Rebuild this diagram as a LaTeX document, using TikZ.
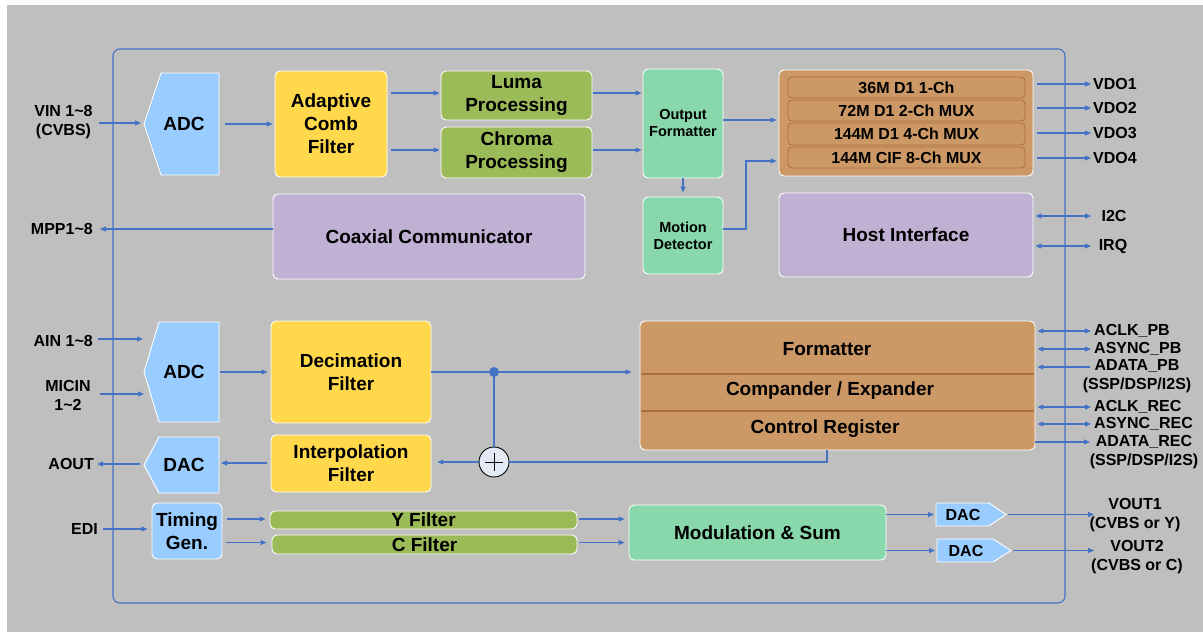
\documentclass[tikz,border=0pt]{standalone}
\usepackage{fontspec}
\setmainfont{Liberation Sans}
\usetikzlibrary{arrows.meta,calc}
\definecolor{bg}{HTML}{BFBFBF}
\definecolor{ln}{HTML}{4472C4}
\definecolor{lblue}{HTML}{99CCFF}
\definecolor{yel}{HTML}{FFD84B}
\definecolor{olive}{HTML}{9BBB59}
\definecolor{mint}{HTML}{88D8AC}
\definecolor{tan}{HTML}{CC9966}
\definecolor{tandark}{HTML}{A8703E}
\definecolor{lilac}{HTML}{C0B0D3}
\definecolor{sumfill}{HTML}{E3EAF5}
\newcommand{\mkbox}[8][]{\node[blk, fill=#7, minimum width={#5-#3}, minimum height={#6-#4}, #1] (#2) at ({(#3+#5)/2},{(#4+#6)/2}) {#8};}
\begin{document}
\begin{tikzpicture}[x=1pt,y=-1pt,
  blkf/.style={font=\bfseries\fontsize{19}{23}\selectfont, inner sep=0pt, align=center},
  blk/.style={blkf, draw=white, line width=0.9pt, rounded corners=5pt},
  smf/.style={font=\bfseries\fontsize{14.5}{17}\selectfont},
  barf/.style={draw=tandark, line width=0.8pt, rounded corners=4pt, font=\bfseries\fontsize{16}{19}\selectfont},
  dacf/.style={font=\bfseries\fontsize{16}{19}\selectfont, inner sep=0pt},
  sigf/.style={font=\bfseries\fontsize{16}{19}\selectfont, inner sep=0pt, align=center},
  conn/.style={draw=ln, line width=1.1pt},
  arr/.style={conn, -{Triangle[length=6pt,width=5pt]}},
  darr/.style={conn, {Triangle[length=6pt,width=5pt]}-{Triangle[length=6pt,width=5pt]}},
  pent/.style={fill=lblue, draw=white, line width=0.9pt},
  hid/.style={inner sep=0pt, outer sep=0pt},
]
\useasboundingbox (0,0) rectangle (1203,632);
\fill[white] (0,0) rectangle (1203,632);
\fill[bg] (7,5) rectangle (1203,632);
\draw[ln, line width=1.1pt, rounded corners=7pt] (113,49) rectangle (1065,603);

% ---------- top section
\filldraw[pent] (161,73) -- (219,73) -- (219,175) -- (161,175) -- (144,124) -- cycle;
\node[hid, minimum width=75, minimum height=102] (adcA) at (181.5,124) {};
\node[blkf] (adcAt) at (184,124) {ADC};
\mkbox{acf}{275}{71}{387}{177}{yel}{Adaptive\\Comb\\Filter}
\mkbox{luma}{441}{71}{592}{120}{olive}{Luma\\Processing}
\mkbox{chroma}{441}{127}{592}{178}{olive}{Chroma\\Processing}
\mkbox[smf]{of}{643}{69}{723}{178}{mint}{Output\\Formatter}
\mkbox[smf]{md}{643}{197}{723}{274}{mint}{Motion\\Detector}
\mkbox{mux}{779}{70}{1033}{176}{tan}{}
\mkbox[barf]{bar1}{788}{77}{1025}{98}{tan}{36M D1 1-Ch}
\mkbox[barf]{bar2}{788}{100}{1025}{121}{tan}{72M D1 2-Ch MUX}
\mkbox[barf]{bar3}{788}{123}{1025}{145}{tan}{144M D1 4-Ch MUX}
\mkbox[barf]{bar4}{788}{147}{1025}{168}{tan}{144M CIF 8-Ch MUX}
\mkbox{coax}{273}{194}{585}{279}{lilac}{Coaxial Communicator}
\mkbox{host}{779}{193}{1033}{277}{lilac}{Host Interface}

% ---------- middle section
\filldraw[pent] (159,322) -- (219,322) -- (219,422) -- (159,422) -- (144,372) -- cycle;
\node[hid, minimum width=75, minimum height=100] (adcB) at (181.5,372) {};
\node[blkf] (adcBt) at (184,372) {ADC};
\mkbox{dec}{271}{321}{431}{423}{yel}{Decimation\\Filter}
\mkbox{interp}{271}{435}{431}{492}{yel}{Interpolation\\Filter}
\filldraw[pent] (159,437) -- (219,437) -- (219,493) -- (159,493) -- (144,465) -- cycle;
\node[hid, minimum width=75, minimum height=56] (dacA) at (181.5,465) {};
\node[blkf] (dacAt) at (184,465) {DAC};
\mkbox{fmt}{640}{321}{1035}{450}{tan}{}
\draw[tandark, line width=1.2pt] (641,374) -- (1034,374);
\draw[tandark, line width=1.2pt] (641,411) -- (1034,411);
\node[blkf] (fmtA) at (827,349) {Formatter};
\node[blkf] (fmtB) at (830,391) {Compander / Expander};
\node[blkf] (fmtC) at (825,429) {Control Register};
\node[circle, fill=ln, minimum size=10pt, inner sep=0pt] (dot) at (494,372) {};
\node[circle, draw=black, fill=sumfill, line width=0.9pt, minimum size=30pt, inner sep=0pt] (sum) at (494,462) {};
\draw[black, line width=0.8pt] ($(sum.center)+(-9,0)$) -- ($(sum.center)+(9,0)$)
  ($(sum.center)+(0,-9)$) -- ($(sum.center)+(0,9)$);

% ---------- bottom section
\mkbox{timing}{152}{503}{222}{559}{lblue}{Timing\\Gen.}
\mkbox{yfil}{270}{511}{577}{529}{olive}{Y Filter}
\mkbox{cfil}{272}{535}{577}{554}{olive}{C Filter}
\mkbox{mod}{629}{505}{886}{560}{mint}{Modulation \& Sum}
\filldraw[pent] (936,503) -- (989,503) -- (1006,514.5) -- (989,526) -- (936,526) -- cycle;
\node[hid, minimum width=70, minimum height=23] (dac1) at (971,514.5) {};
\node[dacf] (dac1t) at (963,514.5) {DAC};
\filldraw[pent] (937,539) -- (993,539) -- (1011,550.5) -- (993,562) -- (937,562) -- cycle;
\node[hid, minimum width=74, minimum height=23] (dac2) at (974,550.5) {};
\node[dacf] (dac2t) at (966,550.5) {DAC};

% ---------- labels
\node[sigf] (vin) at (63.5,122.5) {VIN 1\textasciitilde8\\(CVBS)};
\node[sigf, anchor=east] (mpp) at (93,229) {MPP1\textasciitilde8};
\node[sigf, anchor=east] (ain) at (93,341) {AIN 1\textasciitilde8};
\node[sigf] (micin) at (68,395) {MICIN\\1\textasciitilde2};
\node[sigf, anchor=east] (aout) at (94,464) {AOUT};
\node[sigf, anchor=east] (edi) at (98,529) {EDI};
\node[sigf, anchor=west] (vdo1) at (1093,84) {VDO1};
\node[sigf, anchor=west] (vdo2) at (1093,108) {VDO2};
\node[sigf, anchor=west] (vdo3) at (1093,133) {VDO3};
\node[sigf, anchor=west] (vdo4) at (1093,158) {VDO4};
\node[sigf] (i2c) at (1114,216) {I2C};
\node[sigf] (irq) at (1113,246) {IRQ};
\node[sigf, anchor=west] (aclkpb) at (1094,331) {ACLK\_PB};
\node[sigf, anchor=west] (asyncpb) at (1094,349) {ASYNC\_PB};
\node[sigf] (adatapb) at (1137,376.5) {ADATA\_PB\\(SSP/DSP/I2S)};
\node[sigf, anchor=west] (aclkrec) at (1094,407) {ACLK\_REC};
\node[sigf, anchor=west] (asyncrec) at (1094,424) {ASYNC\_REC};
\node[sigf] (adatarec) at (1144,452) {ADATA\_REC\\(SSP/DSP/I2S)};
\node[sigf] (vout1) at (1135,515) {VOUT1\\(CVBS or Y)};
\node[sigf] (vout2) at (1137,557) {VOUT2\\(CVBS or C)};

% ---------- connectors top
\coordinate (vinP) at (99,123);
\draw[arr, shorten >=3pt] (vinP) -- (vinP -| adcA.west);
\draw[arr, shorten <=6pt, shorten >=2pt] (adcA.east) -- (adcA.east -| acf.west);
\draw[arr, shorten <=4pt, shorten >=1pt] ($(acf.east |- luma.west)+(0,-2.5)$) -- ($(luma.west)+(0,-2.5)$);
\draw[arr, shorten <=4pt, shorten >=1pt] ($(acf.east |- chroma.west)+(0,-2.5)$) -- ($(chroma.west)+(0,-2.5)$);
\draw[arr, shorten <=1pt, shorten >=1pt] ($(luma.east)+(0,-2.5)$) -- ($(luma.east -| of.west)+(0,-2.5)$);
\draw[arr, shorten <=1pt, shorten >=1pt] ($(chroma.east)+(0,-2.5)$) -- ($(chroma.east -| of.west)+(0,-2.5)$);
\draw[arr, shorten >=4pt] (of.south) -- (md.north);
\draw[arr, shorten >=2pt] ($(of.east)+(0,-3.5)$) -- ($(of.east -| mux.west)+(0,-3.5)$);
\coordinate (mdB) at (746,161);
\draw[arr, shorten >=2pt] ($(md.east)+(0,-6.5)$) -| (mdB) -- (mdB -| mux.west);
\foreach \n in {vdo1,vdo2,vdo3,vdo4}
  \draw[arr, shorten <=4pt, shorten >=2pt] (\n.west -| mux.east) -- (\n.west);
\coordinate (i2cP) at (1091,216);
\coordinate (irqP) at (1091,246);
\draw[darr, shorten <=2pt] (i2cP -| host.east) -- (i2cP);
\draw[darr, shorten <=2pt] (irqP -| host.east) -- (irqP);
\coordinate (mppP) at (100,229);
\draw[arr] (mppP -| coax.west) -- (mppP);

% ---------- connectors middle
\coordinate (ainP) at (98,339);
\draw[arr, shorten >=1pt] (ainP) -- (ainP -| adcB.west);
\coordinate (micP) at (100,394);
\draw[arr] (micP) -- (micP -| adcB.west);
\draw[arr, shorten <=1pt, shorten >=3pt] (adcB.east) -- (adcB.east -| dec.west);
\draw[arr, shorten >=8pt] (dec.east) -- (dec.east -| fmt.west);
\draw[conn] (dot) -- (sum);
\coordinate (crB) at (827,462);
\draw[conn] (crB |- fmt.south) -- (crB) -- (sum.east);
\draw[arr, shorten >=6pt] (sum.west) -- (sum.west -| interp.east);
\draw[arr, shorten <=4pt, shorten >=2pt] ($(interp.west)+(0,-0.5)$) -- ($(interp.west -| dacA.east)+(0,-0.5)$);
\coordinate (aoutP) at (97,464);
\draw[arr, shorten <=4pt] (aoutP -| dacA.west) -- (aoutP);
\foreach \n in {aclkpb,asyncpb,aclkrec,asyncrec}
  \draw[darr, shorten <=2pt, shorten >=3pt] (\n.west -| fmt.east) -- (\n.west);
\coordinate (adpbP) at (1090,367);
\draw[arr, shorten >=2pt] (adpbP) -- (adpbP -| fmt.east);
\coordinate (adrecP) at (1090,442);
\draw[arr] (adrecP -| fmt.east) -- (adrecP);

% ---------- connectors bottom
\coordinate (ediP) at (103,529);
\draw[arr, shorten >=4pt] (ediP) -- (ediP -| timing.west);
\draw[arr, shorten <=5pt, shorten >=4pt] ($(timing.east |- yfil.west)+(0,-1)$) -- ($(yfil.west)+(0,-1)$);
\draw[arr, shorten <=4pt, shorten >=5pt] ($(timing.east |- cfil.west)+(0,-2)$) -- ($(cfil.west)+(0,-2)$);
\draw[arr, shorten <=2pt, shorten >=4pt] ($(yfil.east)+(0,-1)$) -- ($(yfil.east -| mod.west)+(0,-1)$);
\draw[arr, shorten <=2pt, shorten >=4pt] ($(cfil.east)+(0,-2)$) -- ($(cfil.east -| mod.west)+(0,-2)$);
\draw[arr, shorten >=2pt] (mod.east |- dac1.west) -- (dac1.west);
\draw[arr, shorten >=2pt] (mod.east |- dac2.west) -- (dac2.west);
\coordinate (vo1P) at (1094,514.5);
\coordinate (vo2P) at (1094,550.5);
\draw[arr, shorten <=2pt] (dac1.east) -- (vo1P);
\draw[arr, shorten <=2pt] (dac2.east) -- (vo2P);
\end{tikzpicture}
\end{document}
